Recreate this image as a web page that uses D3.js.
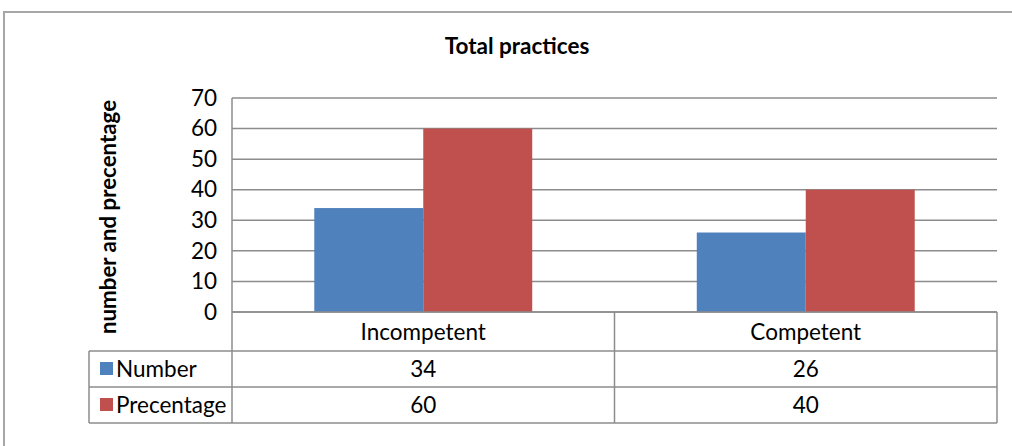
<!DOCTYPE html>
<html lang="en">
<head>
<meta charset="utf-8">
<title>Total practices</title>
<script src="https://d3js.org/d3.v7.min.js"></script>
<style>
 body { margin: 0; background: #fff; }
 text { font-family: Lato, "Liberation Sans", sans-serif; fill: #000; }
</style>
</head>
<body>
<script>
 // data
 var categories = ["Incompetent", "Competent"];
 var seriesNames = ["Number", "Precentage"];
 var numberValues = [34, 26];
 var percentValues = [60, 40];
 var yTicks = [0, 10, 20, 30, 40, 50, 60, 70];
 var colors = ["#4F81BD", "#C0504D"];

 var W = 1012, H = 446;
 var plot = {left: 232, right: 997, top: 98, bottom: 312};
 var rowLines = [312, 351, 387, 423];
 var legendLeft = 89;
 var gridColor = "#8c8c8c";
 var fs = "22.5px";

 var svg = d3.select("body").append("svg")
     .attr("width", W).attr("height", H);

 // outer frame
 svg.append("rect")
     .attr("x", 4).attr("y", 12)
     .attr("width", W + 20).attr("height", H + 20)
     .attr("fill", "none").attr("stroke", "#a6a6a6").attr("stroke-width", 2);

 // title
 svg.append("text")
     .attr("x", 517).attr("y", 54)
     .attr("text-anchor", "middle")
     .attr("font-size", "22.5px").attr("font-weight", "bold")
     .text("Total practices");

 var yScale = d3.scaleLinear().domain([0, 70]).range([plot.bottom, plot.top]);

 var x0 = d3.scaleBand().domain(categories)
     .range([plot.left, plot.right]).paddingInner(0).paddingOuter(0);

 var x1 = d3.scaleBand().domain(seriesNames)
     .range([0, x0.bandwidth()]).paddingInner(0).paddingOuter(0.755);

 // gridlines
 svg.append("g").selectAll("line")
     .data(yTicks)
     .enter().append("line")
     .attr("x1", plot.left).attr("x2", plot.right)
     .attr("y1", function (d) { return yScale(d); })
     .attr("y2", function (d) { return yScale(d); })
     .attr("stroke", gridColor).attr("stroke-width", 1.5);

 // left axis line
 svg.append("line")
     .attr("x1", plot.left).attr("x2", plot.left)
     .attr("y1", plot.top).attr("y2", plot.bottom)
     .attr("stroke", gridColor).attr("stroke-width", 1.5);

 // y axis
 var yAxis = svg.append("g")
     .attr("transform", "translate(" + (plot.left - 15) + ",0)")
     .call(d3.axisLeft(yScale).tickValues(yTicks).tickSize(0).tickPadding(0));
 yAxis.select(".domain").remove();
 yAxis.selectAll("text")
     .attr("font-size", fs)
     .attr("font-family", "Lato, 'Liberation Sans', sans-serif")
     .attr("fill", "#000");

 // y axis title
 svg.append("text")
     .attr("transform", "translate(116," + 217 + ") rotate(-90)")
     .attr("text-anchor", "middle")
     .attr("font-size", "22.3px").attr("font-weight", "bold")
     .text("number and precentage");

 // bars
 var rows = categories.map(function (c, i) {
     return {cat: c, values: [numberValues[i], percentValues[i]]};
 });

 var groups = svg.append("g").selectAll("g")
     .data(rows)
     .enter().append("g")
     .attr("transform", function (d) { return "translate(" + x0(d.cat) + ",0)"; });

 groups.selectAll("rect")
     .data(function (d) {
         return d.values.map(function (v, j) { return {s: seriesNames[j], v: v, j: j}; });
     })
     .enter().append("rect")
     .attr("x", function (d) { return x1(d.s); })
     .attr("y", function (d) { return yScale(d.v); })
     .attr("width", x1.bandwidth())
     .attr("height", function (d) { return yScale(0) - yScale(d.v); })
     .attr("fill", function (d) { return colors[d.j]; });

 // data table
 var table = svg.append("g");
 var lineStyle = function (sel) {
     return sel.attr("stroke", gridColor).attr("stroke-width", 1.5).attr("fill", "none");
 };

 // horizontal lines
 lineStyle(table.append("line")
     .attr("x1", plot.left).attr("x2", plot.right)
     .attr("y1", rowLines[0]).attr("y2", rowLines[0]));
 rowLines.slice(1).forEach(function (y) {
     lineStyle(table.append("line")
         .attr("x1", legendLeft).attr("x2", plot.right)
         .attr("y1", y).attr("y2", y));
 });

 // vertical lines
 var verts = [plot.left].concat(categories.map(function (c) { return x0(c) + x0.bandwidth(); }));
 verts.forEach(function (x) {
     lineStyle(table.append("line")
         .attr("x1", x).attr("x2", x)
         .attr("y1", rowLines[0]).attr("y2", rowLines[3]));
 });
 lineStyle(table.append("line")
     .attr("x1", legendLeft).attr("x2", legendLeft)
     .attr("y1", rowLines[1]).attr("y2", rowLines[3]));

 // category labels
 table.selectAll(".cat")
     .data(categories)
     .enter().append("text")
     .attr("class", "cat")
     .attr("x", function (d) { return x0(d) + x0.bandwidth() / 2; })
     .attr("y", (rowLines[0] + rowLines[1]) / 2 + 8)
     .attr("text-anchor", "middle")
     .attr("font-size", fs)
     .text(function (d) { return d; });

 // value rows
 var seriesValues = [numberValues, percentValues];
 seriesValues.forEach(function (vals, j) {
     var yMid = (rowLines[j + 1] + rowLines[j + 2]) / 2 + 8;
     table.append("rect")
         .attr("x", legendLeft + 11).attr("y", yMid - 15)
         .attr("width", 13).attr("height", 13)
         .attr("fill", colors[j]);
     table.append("text")
         .attr("x", legendLeft + 27).attr("y", yMid)
         .attr("font-size", fs)
         .text(seriesNames[j]);
     table.selectAll(".v" + j)
         .data(vals)
         .enter().append("text")
         .attr("class", "v" + j)
         .attr("x", function (d, i) { return x0(categories[i]) + x0.bandwidth() / 2; })
         .attr("y", yMid)
         .attr("text-anchor", "middle")
         .attr("font-size", fs)
         .text(function (d) { return d; });
 });
</script>
</body>
</html>
